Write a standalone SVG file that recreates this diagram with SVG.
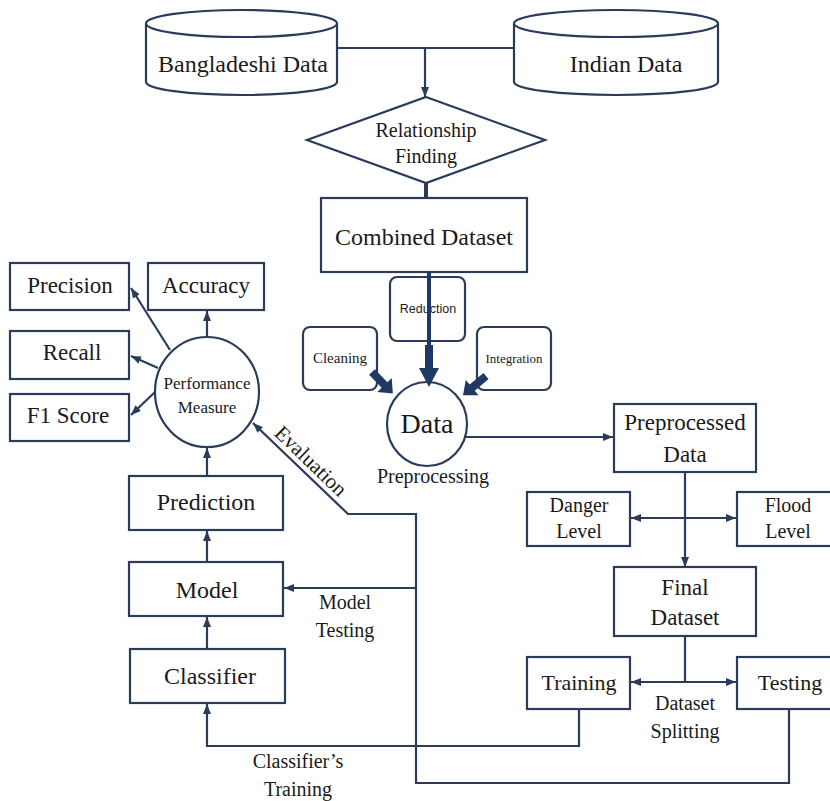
<svg xmlns="http://www.w3.org/2000/svg" width="830" height="801" viewBox="0 0 830 801">
<defs>
<marker id="ah" markerUnits="userSpaceOnUse" markerWidth="10" markerHeight="8" refX="10" refY="4" orient="auto">
<path d="M0,0 L10,4 L0,8 z" fill="#2a3c5a"/>
</marker>
<style>
.b{fill:#fff;stroke:#2a3c5a;stroke-width:2.2}
.l{fill:none;stroke:#2a3c5a;stroke-width:2.2}
.a{fill:none;stroke:#2a3c5a;stroke-width:2.2;marker-end:url(#ah)}
.blk{fill:#1f3864}
text{font-family:"Liberation Serif","Times New Roman",serif;fill:#1a1a1a;text-anchor:middle}
.s{font-family:"Liberation Sans",Arial,sans-serif}
</style>
</defs>
<rect width="830" height="801" fill="#fff"/>

<g id="connectors">
<polyline class="l" points="337,48 514,48"/>
<line class="a" x1="425" y1="48" x2="425" y2="97"/>
<line class="l" x1="426" y1="183" x2="426" y2="198" style="stroke-width:4"/>
<line class="a" x1="453" y1="437" x2="613" y2="437"/>
<line class="a" x1="685" y1="472" x2="685" y2="567"/>
<line class="a" x1="685" y1="518" x2="631" y2="518"/>
<line class="a" x1="685" y1="518" x2="736" y2="518"/>
<line class="l" x1="685" y1="636" x2="685" y2="682"/>
<line class="a" x1="685" y1="682" x2="631" y2="682"/>
<line class="a" x1="685" y1="682" x2="736" y2="682"/>
<polyline class="a" points="579,709 579,746 207,746 207,704"/>
<polyline class="a" points="789,709 789,783 416,783 416,514 348,514 253,423"/>
<line class="a" x1="416" y1="588" x2="284" y2="588"/>
<line class="a" x1="207" y1="649" x2="207" y2="617"/>
<line class="a" x1="207" y1="562" x2="207" y2="531"/>
<line class="a" x1="207" y1="476" x2="207" y2="448"/>
<line class="a" x1="207" y1="337" x2="207" y2="311"/>
<line class="a" x1="170" y1="350" x2="131" y2="288"/>
<line class="a" x1="158" y1="368" x2="131" y2="356"/>
<line class="a" x1="155" y1="392" x2="131" y2="415"/>
<text transform="translate(306,466) rotate(44)" font-size="21">Evaluation</text>
<text x="345" y="609" font-size="20">Model</text>
<text x="345" y="637" font-size="20">Testing</text>
<text x="298" y="768" font-size="20">Classifier’s</text>
<text x="298" y="796" font-size="20">Training</text>
<text x="685" y="710" font-size="20">Dataset</text>
<text x="685" y="738" font-size="20">Splitting</text>
</g>

<g id="bangladeshi-data">
<path class="b" d="M146,23.5 L146,82 A95.5,13 0 0 0 337,82 L337,23.5"/>
<ellipse class="b" cx="241.5" cy="23.5" rx="95.5" ry="13.5"/>
<text x="243" y="72" font-size="24">Bangladeshi Data</text>
</g>

<g id="indian-data">
<path class="b" d="M514,23.5 L514,82 A102,13 0 0 0 718,82 L718,23.5"/>
<ellipse class="b" cx="616" cy="23.5" rx="102" ry="13.5"/>
<text x="626" y="72" font-size="24">Indian Data</text>
</g>

<g id="relationship-finding">
<polygon class="b" points="426,97 545,140 426,183 307,140"/>
<text x="426" y="137" font-size="20">Relationship</text>
<text x="426" y="163" font-size="20">Finding</text>
</g>

<g id="combined-dataset">
<rect class="b" x="321" y="198" width="206" height="74"/>
<text x="424" y="245" font-size="24">Combined Dataset</text>
</g>

<g id="reduction">
<rect class="b" x="390" y="277" width="75" height="64" rx="7"/>
<text class="s" x="428" y="313" font-size="12.5">Reduction</text>
</g>

<g id="cleaning">
<rect class="b" x="303" y="327" width="74" height="63" rx="7"/>
<text x="340" y="363" font-size="15">Cleaning</text>
</g>

<g id="integration">
<rect class="b" x="477" y="327" width="74" height="63" rx="7"/>
<text x="514" y="363" font-size="13">Integration</text>
</g>

<g id="data-preprocessing">
<ellipse class="b" cx="427" cy="424" rx="40" ry="42"/>
<text x="427" y="433" font-size="28">Data</text>
<text x="433" y="483" font-size="20">Preprocessing</text>
</g>

<g id="preprocessing-arrows">
<polygon class="blk" points="427,272 431,272 431,345 433,345 433,368 439,368 429,387 419,368 425,368 425,345 427,345"/>
<polygon class="blk" transform="translate(372,372) rotate(46)" points="0,-4 18,-4 18,-10 30,0 18,10 18,4 0,4"/>
<polygon class="blk" transform="translate(486,376) rotate(140)" points="0,-4 18,-4 18,-10 30,0 18,10 18,4 0,4"/>
</g>

<g id="preprocessed-data">
<rect class="b" x="614" y="404" width="142" height="68"/>
<text x="685" y="430" font-size="23">Preprocessed</text>
<text x="685" y="462" font-size="23">Data</text>
</g>

<g id="danger-level">
<rect class="b" x="527" y="492" width="103" height="54"/>
<text x="579" y="512" font-size="20">Danger</text>
<text x="579" y="538" font-size="20">Level</text>
</g>

<g id="flood-level">
<rect class="b" x="737" y="492" width="110" height="54"/>
<text x="788" y="512" font-size="20">Flood</text>
<text x="788" y="538" font-size="20">Level</text>
</g>

<g id="final-dataset">
<rect class="b" x="614" y="567" width="142" height="69"/>
<text x="685" y="595" font-size="23">Final</text>
<text x="685" y="625" font-size="23">Dataset</text>
</g>

<g id="training">
<rect class="b" x="527" y="657" width="103" height="52"/>
<text x="579" y="690" font-size="22">Training</text>
</g>

<g id="testing">
<rect class="b" x="737" y="657" width="110" height="52"/>
<text x="790" y="690" font-size="22">Testing</text>
</g>

<g id="performance-measure">
<ellipse class="b" cx="207" cy="392" rx="52" ry="55"/>
<text x="207" y="389" font-size="17">Performance</text>
<text x="207" y="413" font-size="17">Measure</text>
</g>

<g id="precision">
<rect class="b" x="10" y="263" width="119" height="47"/>
<text x="70" y="293" font-size="23">Precision</text>
</g>

<g id="accuracy">
<rect class="b" x="148" y="263" width="116" height="47"/>
<text x="206" y="293" font-size="23">Accuracy</text>
</g>

<g id="recall">
<rect class="b" x="10" y="331" width="119" height="48"/>
<text x="72" y="360" font-size="23">Recall</text>
</g>

<g id="f1-score">
<rect class="b" x="10" y="394" width="119" height="47"/>
<text x="68" y="423" font-size="23">F1 Score</text>
</g>

<g id="prediction">
<rect class="b" x="129" y="476" width="154" height="54"/>
<text x="206" y="510" font-size="24">Prediction</text>
</g>

<g id="model">
<rect class="b" x="129" y="562" width="154" height="54"/>
<text x="207" y="598" font-size="24">Model</text>
</g>

<g id="classifier">
<rect class="b" x="130" y="649" width="155" height="54"/>
<text x="210" y="684" font-size="24">Classifier</text>
</g>
</svg>
